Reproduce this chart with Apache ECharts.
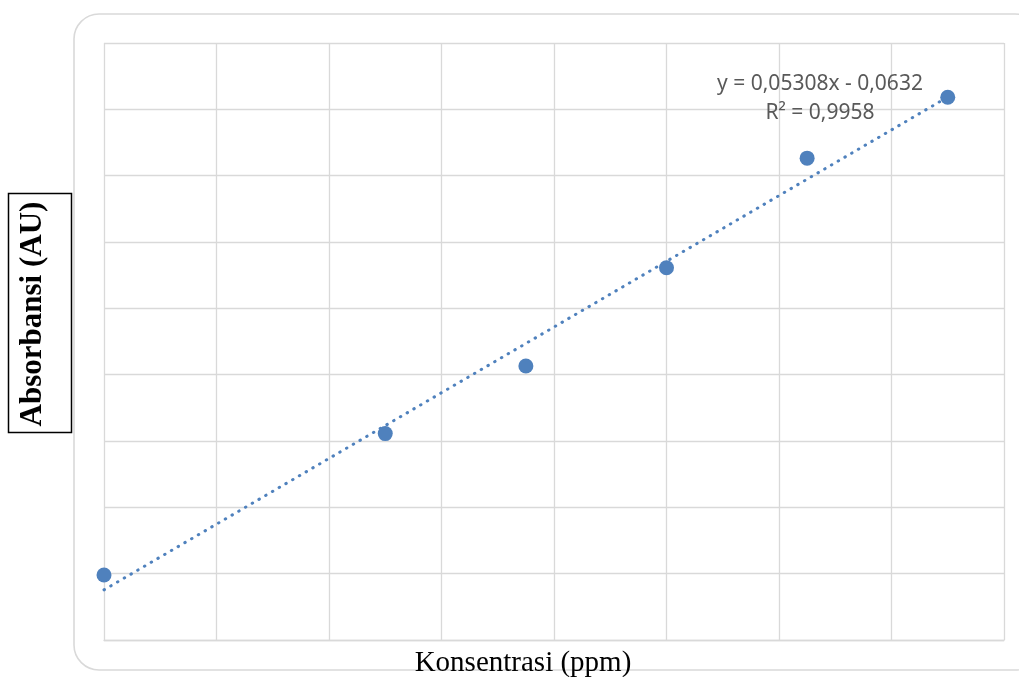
<!DOCTYPE html>
<html>
<head>
<meta charset="utf-8">
<script src="https://cdn.jsdelivr.net/npm/echarts@6/dist/echarts.min.js"></script>
<style>
html,body{margin:0;padding:0;background:#fff;}
#chart{width:1019px;height:677px;}
</style>
</head>
<body>
<div id="chart"></div>
<script>
// Data
const concentrations = [0, 2, 3, 4, 5, 6];            // ppm
const absorbances = [-0.0536, 0.0378, 0.0815, 0.1450, 0.2158, 0.2551]; // AU
// Trendline shown on the chart
const trendSlope = 0.05308;
const trendIntercept = -0.0632;
const trendRange = [0, 6];
const equationLines = ['y = 0,05308x - 0,0632', 'R² = 0,9958'];
// Axis ranges (no tick labels are shown)
const xMin = 0, xMax = 6.4, xStep = 0.8;
const yMin = -0.0956, yMax = 0.2902;
const yGridCount = 9;

const scatterData = concentrations.map((c, i) => [c, absorbances[i]]);
const trendData = trendRange.map(x => [x, trendSlope * x + trendIntercept]);

const chart = echarts.init(document.getElementById('chart'), null, {renderer: 'canvas'});
const gridColor = '#d9d9d9';
const blue = '#4f81bd';

chart.setOption({
  animation: false,
  backgroundColor: '#fff',
  grid: {left: 104, top: 43, right: 15, bottom: 37, containLabel: false},
  xAxis: {
    type: 'value', min: xMin, max: xMax, interval: xStep,
    axisLine: {show: true, onZero: false, lineStyle: {color: gridColor, width: 1.3}},
    axisTick: {show: false}, axisLabel: {show: false},
    splitLine: {show: true, lineStyle: {color: gridColor, width: 1.3}}
  },
  yAxis: [
    {
      type: 'value', min: yMin, max: yMax,
      axisLine: {show: false}, axisTick: {show: false}, axisLabel: {show: false},
      splitLine: {show: false}
    },
    {
      type: 'value', min: 0, max: yGridCount, interval: 1, position: 'left',
      axisLine: {show: false}, axisTick: {show: false}, axisLabel: {show: false},
      splitLine: {show: true, lineStyle: {color: gridColor, width: 1.3}}
    }
  ],
  series: [
    {
      type: 'line', yAxisIndex: 0, data: trendData, symbol: 'none', z: 2,
      lineStyle: {color: blue, width: 3, type: [0.5, 7.3], cap: 'round'}
    },
    {
      type: 'scatter', yAxisIndex: 0, data: scatterData, symbol: 'circle', symbolSize: 15, z: 3,
      itemStyle: {color: blue, opacity: 1}
    }
  ],
  graphic: [
    {
      type: 'rect', z: -10, silent: true,
      shape: {x: 74, y: 14, width: 966, height: 656, r: 25},
      style: {fill: 'none', stroke: gridColor, lineWidth: 1.6}
    },
    {
      type: 'text', z: 10, x: 820, y: 84.5,
      style: {
        text: equationLines[0], align: 'center', verticalAlign: 'middle',
        font: '21px "Noto Sans", sans-serif', fill: '#595959'
      }
    },
    {
      type: 'text', z: 10, x: 820, y: 113.5,
      style: {
        text: equationLines[1], align: 'center', verticalAlign: 'middle',
        font: '21px "Noto Sans", sans-serif', fill: '#595959'
      }
    },
    {
      type: 'text', z: 10, x: 523, y: 663,
      style: {
        text: 'Konsentrasi (ppm)',
        align: 'center', verticalAlign: 'middle',
        font: '29px "Liberation Serif", "Times New Roman", serif', fill: '#000'
      }
    },
    {
      type: 'rect', z: 10,
      shape: {x: 8.5, y: 193.5, width: 63, height: 239},
      style: {fill: '#fff', stroke: '#000', lineWidth: 1.5}
    },
    {
      type: 'text', z: 11,
      x: 33, y: 314, rotation: Math.PI / 2,
      style: {
        text: 'Absorbansi (AU)',
        align: 'center', verticalAlign: 'middle',
        font: 'bold 31px "Liberation Serif", "Times New Roman", serif', fill: '#000'
      }
    }
  ]
});
</script>
</body>
</html>
